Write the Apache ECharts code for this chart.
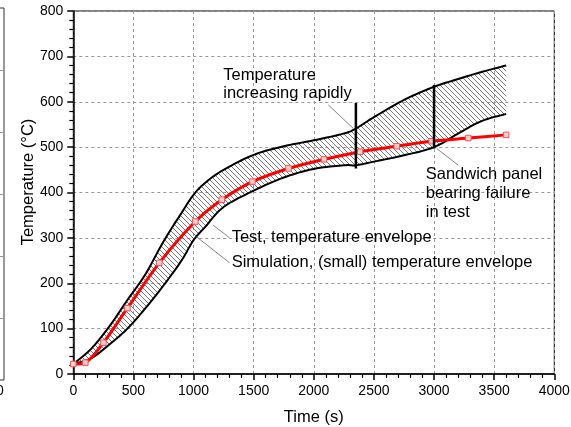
<!DOCTYPE html>
<html><head><meta charset="utf-8">
<script src="https://cdn.jsdelivr.net/npm/echarts@6/dist/echarts.min.js"></script>
<style>html,body{margin:0;padding:0;background:#fff}#c{width:571px;height:427px}</style>
</head><body><div id="c"></div>
<script>
// ---- data (time in s, temperature in °C) ----
const upperT = [0, 150, 300, 450, 600, 750, 900, 1000, 1100, 1250, 1500, 1750, 2000, 2250, 2350, 2500, 2750, 3000, 3200, 3400, 3600];
const upperV = [22, 56, 105, 163, 220, 292, 355, 395, 422, 450, 483, 502, 515, 530, 541, 566, 604, 633, 650, 666, 680];
const lowerT = [0, 150, 300, 450, 600, 750, 900, 1000, 1100, 1250, 1500, 1750, 2000, 2250, 2350, 2500, 2750, 3000, 3200, 3400, 3600];
const lowerV = [22, 35, 65, 100, 145, 195, 250, 295, 325, 368, 404, 433, 452, 460, 460, 468, 482, 500, 530, 558, 573];
const simT = [0, 100, 250, 450, 715, 1015, 1235, 1490, 1790, 2085, 2385, 2690, 2980, 3285, 3600];
const simV = [22, 25, 69, 145, 245, 336, 384, 424, 453, 473, 490, 502, 513, 520, 527];
const xTicks = [0, 4000, 500];   // min, max, interval
const yTicks = [0, 800, 100];
// annotation bars [t, Tlow, Thigh]
const bar1 = [2350, 453, 597];
const bar2 = [3000, 497, 637];
// leader lines [[t1,T1],[t2,T2]]
const leaders = [
  [[2121, 593], [2329, 541]],
  [[3022, 497], [3202, 460]],
  [[1163, 328], [1300, 300]],
  [[1027, 302], [1300, 245]]
];
// annotation texts: [t, T, text, lineHeight, verticalAlign]
const notes = [
  [1247, 677, 'Temperature\nincreasing rapidly', 18, 'top'],
  [2931, 461, 'Sandwich panel\nbearing failure\nin test', 19, 'top'],
  [1317, 300, 'Test, temperature envelope', 18, 'middle'],
  [1317, 245, 'Simulation, (small) temperature envelope', 18, 'middle']
];
const xName = 'Time (s)';
const yName = 'Temperature (°C)';

const zip = (a, b) => a.map((v, i) => [v, b[i]]);
const FONT = '"Liberation Sans", Arial, sans-serif';

function hatch() {
  const c = document.createElement('canvas'); c.width = 5; c.height = 5;
  const g = c.getContext('2d'); g.strokeStyle = '#555'; g.lineWidth = 0.8;
  g.beginPath();
  g.moveTo(-1, -1); g.lineTo(6, 6);
  g.moveTo(-1, 4); g.lineTo(1, 6);
  g.moveTo(4, -1); g.lineTo(6, 1);
  g.stroke();
  return c;
}
const hatchCanvas = hatch();

// smooth rendering of a pixel polyline (Catmull-Rom style cubic Bezier)
function smoothPx(pts, s, steps) {
  const out = [pts[0]];
  for (let i = 0; i < pts.length - 1; i++) {
    const p0 = pts[Math.max(i - 1, 0)], p1 = pts[i], p2 = pts[i + 1], p3 = pts[Math.min(i + 2, pts.length - 1)];
    const c1 = [p1[0] + (p2[0] - p0[0]) * s, p1[1] + (p2[1] - p0[1]) * s];
    const c2 = [p2[0] - (p3[0] - p1[0]) * s, p2[1] - (p3[1] - p1[1]) * s];
    for (let k = 1; k <= steps; k++) {
      const u = k / steps, v = 1 - u;
      const b0 = v * v * v, b1 = 3 * v * v * u, b2 = 3 * v * u * u, b3 = u * u * u;
      out.push([b0 * p1[0] + b1 * c1[0] + b2 * c2[0] + b3 * p2[0], b0 * p1[1] + b1 * c1[1] + b2 * c2[1] + b3 * p2[1]]);
    }
  }
  return out;
}

const chart = echarts.init(document.getElementById('c'), null, {renderer: 'canvas'});
const series = [
  {
    type: 'custom', xAxisIndex: 0, yAxisIndex: 0, silent: true, z: 2,
    data: [[0, 0]],
    renderItem: (params, api) => {
      const up = smoothPx(upperT.map((t, i) => api.coord([t, upperV[i]])), 0.17, 10);
      const lo = smoothPx(lowerT.map((t, i) => api.coord([t, lowerV[i]])), 0.17, 10);
      const poly = up.concat(lo.slice().reverse());
      return {type: 'group', children: [
        {type: 'polygon', shape: {points: poly}, style: {fill: {image: hatchCanvas, repeat: 'repeat'}, stroke: null}},
        {type: 'polyline', shape: {points: up}, style: {stroke: '#000', lineWidth: 2, fill: null}},
        {type: 'polyline', shape: {points: lo}, style: {stroke: '#000', lineWidth: 2, fill: null}}
      ]};
    }
  },
  {type: 'line', data: zip(simT, simV), symbol: 'rect', symbolSize: 5.5, z: 5, smooth: 0.3,
    lineStyle: {color: '#f00', width: 3},
    itemStyle: {color: '#ffd0d0', borderColor: '#ff5050', borderWidth: 1}, silent: true},
  {type: 'line', data: [[bar1[0], bar1[1]], [bar1[0], bar1[2]]], showSymbol: false, z: 6, lineStyle: {color: '#000', width: 2.5}, silent: true},
  {type: 'line', data: [[bar2[0], bar2[1]], [bar2[0], bar2[2]]], showSymbol: false, z: 6, lineStyle: {color: '#000', width: 2.5}, silent: true}
];
leaders.forEach(l => series.push({type: 'line', data: l, showSymbol: false, z: 4, lineStyle: {color: '#666', width: 0.8}, silent: true}));
// neighbouring (cropped) chart on the far left
series.push({type: 'line', xAxisIndex: 1, yAxisIndex: 1, data: [], silent: true});

chart.setOption({
  animation: false,
  grid: [
    {left: 73.3, right: 16.7, top: 11, bottom: 53, show: true, borderColor: '#000', borderWidth: 1, containLabel: false, outerBoundsMode: 'none'},
    {left: -300, width: 304, top: 8, bottom: 47, show: true, borderColor: '#333', borderWidth: 1, containLabel: false, outerBoundsMode: 'none'}
  ],
  xAxis: [{
    type: 'value', min: xTicks[0], max: xTicks[1], interval: xTicks[2], gridIndex: 0,
    name: xName, nameLocation: 'middle', nameGap: 35,
    nameTextStyle: {fontFamily: FONT, fontSize: 16.5, color: '#000'},
    axisLine: {show: true, lineStyle: {color: '#000', width: 1.5}},
    axisTick: {show: true, inside: false, length: 6, lineStyle: {color: '#000', width: 1.5}},
    minorTick: {show: true, splitNumber: 5, length: 4, lineStyle: {color: '#000', width: 1.2}},
    axisLabel: {fontFamily: FONT, fontSize: 14, color: '#000', margin: 10, formatter: v => String(v)},
    splitLine: {show: true, lineStyle: {color: '#999', type: [3, 3], width: 1}}
  }, {
    type: 'value', gridIndex: 1, min: 0, max: 1, show: false
  }],
  yAxis: [{
    type: 'value', min: yTicks[0], max: yTicks[1], interval: yTicks[2], gridIndex: 0,
    axisLine: {show: true, lineStyle: {color: '#000', width: 1.5}},
    axisTick: {show: true, inside: false, length: 6, lineStyle: {color: '#000', width: 1.5}},
    minorTick: {show: true, splitNumber: 5, length: 4, lineStyle: {color: '#000', width: 1.2}},
    axisLabel: {fontFamily: FONT, fontSize: 14, color: '#000', margin: 10, formatter: v => String(v)},
    splitLine: {show: true, lineStyle: {color: '#999', type: [3, 3], width: 1}}
  }, {
    type: 'value', gridIndex: 1, min: 0, max: 6, interval: 1,
    axisLine: {show: false}, axisTick: {show: false}, axisLabel: {show: false},
    splitLine: {show: true, lineStyle: {color: '#999', type: [3, 3], width: 1}}
  }],
  series
});

const graphics = notes.map(n => {
  const p = chart.convertToPixel({gridIndex: 0}, [n[0], n[1]]);
  return {type: 'text', x: p[0], y: p[1], z: 10,
    style: {text: n[2], font: '16.5px ' + FONT, fill: '#000', lineHeight: n[3], textAlign: 'left', textVerticalAlign: n[4]}};
});
graphics.push({type: 'text', x: 28, y: 182, rotation: Math.PI / 2, z: 10,
  style: {text: yName, font: '16.5px ' + FONT, fill: '#000', textAlign: 'center', textVerticalAlign: 'middle'}});
graphics.push({type: 'text', x: -4, y: 391, z: 10,
  style: {text: '0', font: '14px ' + FONT, fill: '#000', textAlign: 'left', textVerticalAlign: 'middle'}});
chart.setOption({graphic: graphics});
</script>
</body></html>
